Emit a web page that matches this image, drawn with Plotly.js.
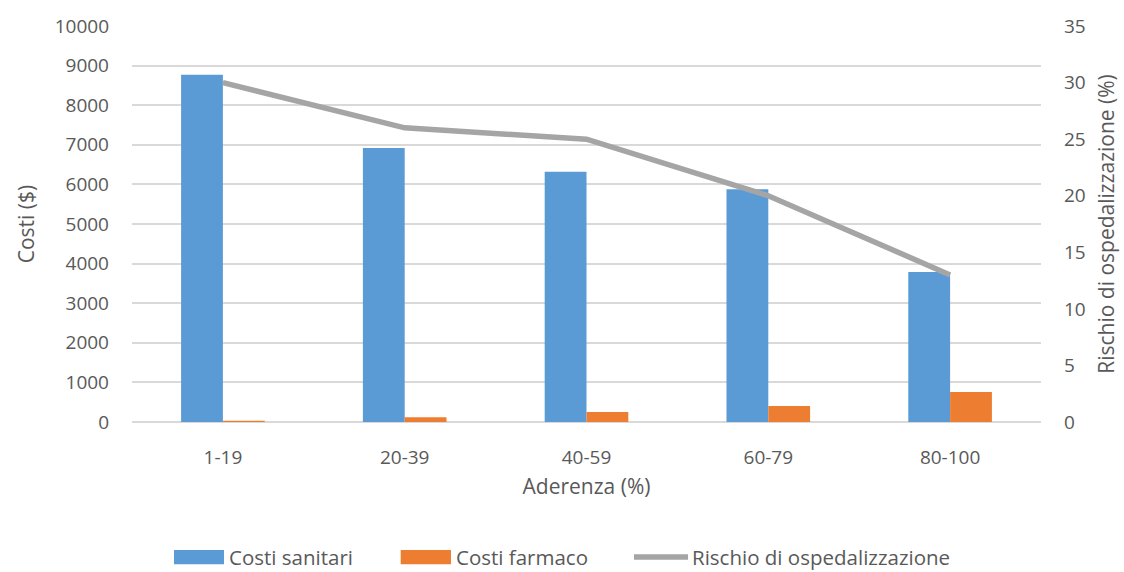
<!DOCTYPE html>
<html>
<head>
<meta charset="utf-8">
<script src="https://cdn.plot.ly/plotly-3.0.1.min.js"></script>
<style>
  html, body { margin: 0; padding: 0; background: #ffffff; }
  #chart { width: 1124px; height: 572px; }
</style>
</head>
<body>
<div id="chart"></div>
<script>
// Adherence bands
const categories = ['1-19', '20-39', '40-59', '60-79', '80-100'];
// Healthcare costs ($)
const costiSanitari = [8770, 6920, 6320, 5880, 3790];
// Drug costs ($)
const costiFarmaco = [30, 120, 255, 405, 760];
// Hospitalisation risk (%)
const rischio = [30, 26, 25, 20, 13];

const seriesNames = ['Costi sanitari', 'Costi farmaco', 'Rischio di ospedalizzazione'];
const colors = ['#5b9bd5', '#ed7d31', '#a5a5a5'];
const textColor = '#595959';
const fontFamily = '"Open Sans", "Noto Sans", sans-serif';

const traces = [
  {
    type: 'bar', name: seriesNames[0], x: categories, y: costiSanitari,
    marker: { color: colors[0] }, yaxis: 'y', showlegend: false, hoverinfo: 'skip'
  },
  {
    type: 'bar', name: seriesNames[1], x: categories, y: costiFarmaco,
    marker: { color: colors[1] }, yaxis: 'y', showlegend: false, hoverinfo: 'skip'
  },
  {
    type: 'scatter', mode: 'lines', name: seriesNames[2], x: categories, y: rischio,
    line: { color: colors[2], width: 5.5 }, yaxis: 'y2', showlegend: false, hoverinfo: 'skip'
  }
];

// Legend drawn below the plot with wide swatches
const legendY = -0.341;
const shapes = [
  { type: 'rect', xref: 'paper', yref: 'paper', x0: 0.0462, x1: 0.1012, y0: legendY - 0.018, y1: legendY + 0.018,
    fillcolor: colors[0], line: { width: 0 } },
  { type: 'rect', xref: 'paper', yref: 'paper', x0: 0.2956, x1: 0.3509, y0: legendY - 0.018, y1: legendY + 0.018,
    fillcolor: colors[1], line: { width: 0 } },
  { type: 'line', xref: 'paper', yref: 'paper', x0: 0.5522, x1: 0.6117, y0: legendY, y1: legendY,
    line: { color: colors[2], width: 5.5 } }
];
const legendFont = { family: fontFamily, size: 20.5, color: textColor };
const annotations = [
  { xref: 'paper', yref: 'paper', x: 0.1045, y: legendY, xanchor: 'left', yanchor: 'middle',
    text: seriesNames[0], showarrow: false, font: legendFont },
  { xref: 'paper', yref: 'paper', x: 0.3545, y: legendY, xanchor: 'left', yanchor: 'middle',
    text: seriesNames[1], showarrow: false, font: legendFont },
  { xref: 'paper', yref: 'paper', x: 0.6135, y: legendY, xanchor: 'left', yanchor: 'middle',
    text: seriesNames[2], showarrow: false, font: legendFont }
];

const layout = {
  width: 1124, height: 572,
  margin: { l: 132, r: 83, t: 26, b: 150 },
  paper_bgcolor: '#ffffff', plot_bgcolor: '#ffffff',
  font: { family: fontFamily, color: textColor, size: 19 },
  barmode: 'group', bargap: 0.54, bargroupgap: 0,
  showlegend: false,
  xaxis: {
    type: 'category',
    showgrid: false, zeroline: false, showline: false, ticks: '',
    ticklabelstandoff: 22,
    tickfont: { family: fontFamily, size: 19, color: textColor },
    title: { text: 'Aderenza (%)', font: { family: fontFamily, size: 21, color: textColor }, standoff: 10 }
  },
  yaxis: {
    range: [0, 10000], dtick: 1000, tick0: 0, tickformat: 'd',
    showgrid: true, gridcolor: '#d9d9d9', gridwidth: 2,
    zeroline: true, zerolinecolor: '#d9d9d9', zerolinewidth: 2,
    showline: false, ticks: '',
    ticklabelstandoff: 22,
    tickfont: { family: fontFamily, size: 19, color: textColor },
    title: { text: 'Costi ($)', font: { family: fontFamily, size: 21, color: textColor }, standoff: 14 }
  },
  yaxis2: {
    overlaying: 'y', side: 'right',
    range: [0, 35], dtick: 5, tick0: 0,
    showgrid: false, zeroline: false, showline: false, ticks: '',
    ticklabelstandoff: 22,
    tickfont: { family: fontFamily, size: 19, color: textColor },
    title: { text: 'Rischio di ospedalizzazione (%)', font: { family: fontFamily, size: 21, color: textColor }, standoff: 14 }
  },
  shapes: shapes,
  annotations: annotations
};

Plotly.newPlot('chart', traces, layout, { displayModeBar: false, staticPlot: true });
</script>
</body>
</html>
